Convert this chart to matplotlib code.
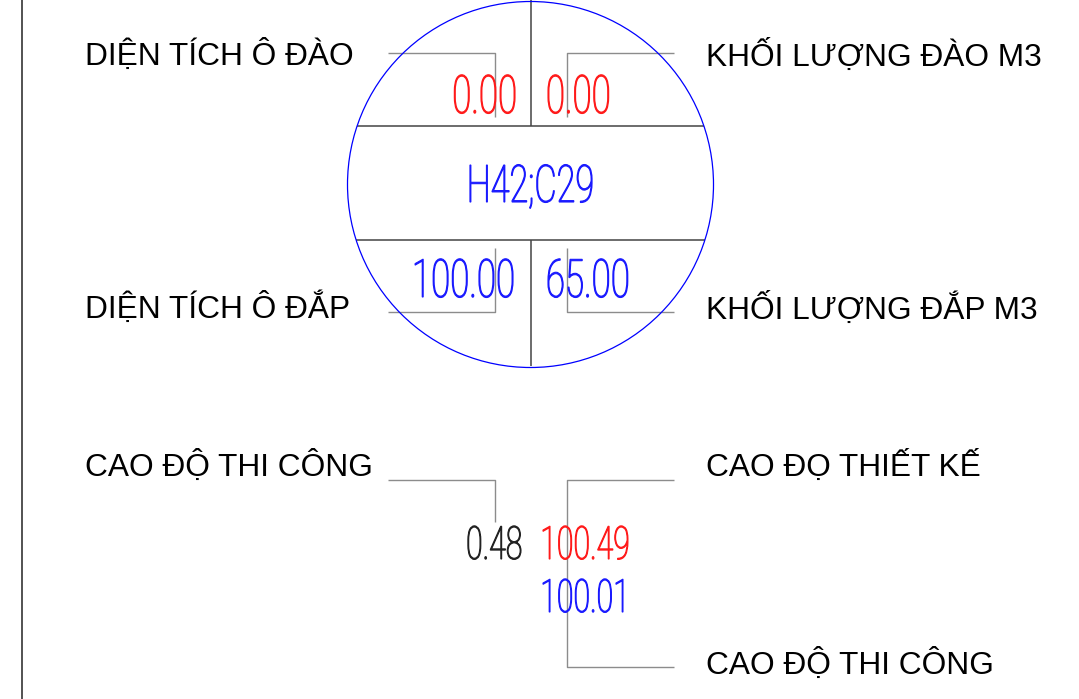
import matplotlib
matplotlib.use('Agg')
import matplotlib.pyplot as plt
from matplotlib.patches import Circle, PathPatch
from matplotlib.textpath import TextPath
from matplotlib.font_manager import FontProperties
from matplotlib.transforms import Affine2D

W, H = 1079, 699

# labels
LEFT_LABELS = ['DIỆN TÍCH Ô ĐÀO', 'DIỆN TÍCH Ô ĐẮP', 'CAO ĐỘ THI CÔNG']
RIGHT_LABELS = ['KHỐI LƯỢNG ĐÀO M3', 'KHỐI LƯỢNG ĐẮP M3',
                'CAO ĐỌ THIẾT KẾ', 'CAO ĐỘ THI CÔNG']

# values
CELL_ID = 'H42;C29'
AREA_CUT = 0.00
VOL_CUT = 0.00
AREA_FILL = 100.00
VOL_FILL = 65.00
WORK_HEIGHT = 0.48
DESIGN_ELEV = 100.49
GROUND_ELEV = 100.01

RED = '#ff1a1a'
BLUE = '#1a1aff'
DARK = '#222222'
GRAY = '#8c8c8c'
LINE = '#444444'

NUM_FONT = FontProperties(family='Roboto', weight='light')
SX = 0.66


def Y(y):
    # top-origin pixel row -> data y
    return H - y


def narrow_text(ax, s, x, y, size, color, ha='left'):
    """Condensed number text; (x, y) is baseline anchor in pixel coords."""
    tp = TextPath((0, 0), s, size=size, prop=NUM_FONT)
    ext = tp.get_extents()
    w = ext.x1 * SX
    x0 = ext.x0 * SX
    if ha == 'left':
        dx = x - x0
    elif ha == 'right':
        dx = x - w
    else:
        dx = x - (x0 + w) / 2
    tr = Affine2D().scale(SX, 1.0).translate(dx, Y(y))
    ax.add_patch(PathPatch(tr.transform_path(tp), facecolor=color,
                           edgecolor=color, lw=0.8, zorder=4))


def seg(ax, xs, ys, color=GRAY, lw=1.0):
    ax.plot(xs, [Y(v) for v in ys], color=color, lw=lw,
            solid_capstyle='butt', zorder=2)


fig = plt.figure(figsize=(W / 100, H / 100), dpi=100)
ax = fig.add_axes([0, 0, 1, 1])
ax.set_xlim(0, W)
ax.set_ylim(0, H)
ax.axis('off')

# frame edge on the left
seg(ax, [22, 22], [0, H], color=LINE, lw=1.3)

# circle
cx, cy, r = 530.5, 184.5, 183
ax.add_patch(Circle((cx, Y(cy)), r, fill=False, edgecolor='#0000ff',
                    lw=0.9, zorder=3))

# dividers
for yy in (126, 240):
    dy = abs(yy - cy)
    half = (r ** 2 - dy ** 2) ** 0.5
    seg(ax, [cx - half, cx + half], [yy, yy], color=LINE, lw=1.1)
seg(ax, [531, 531], [0, 126], color=LINE, lw=1.1)
seg(ax, [531, 531], [240, 366], color=LINE, lw=1.1)

# leaders inside / around circle
seg(ax, [388, 495, 495], [53, 53, 117])
seg(ax, [674, 567, 567], [53, 53, 117])
seg(ax, [388, 495, 495], [312, 312, 248])
seg(ax, [674, 567, 567], [312, 312, 248])

# leaders for elevations
seg(ax, [388, 495, 495], [480, 480, 522])
seg(ax, [674, 567, 567, 674], [480, 480, 667, 667])

# labels
lab_kw = dict(fontsize=22.8, family=['Liberation Sans', 'DejaVu Sans'],
              color='black', va='center', ha='left')
for lab, yy in zip(LEFT_LABELS, [56, 309, 467]):
    ax.text(85, Y(yy), lab, **lab_kw)
for lab, yy in zip(RIGHT_LABELS, [56, 309, 467, 665]):
    ax.text(706, Y(yy), lab, **lab_kw)

# numbers in the circle
narrow_text(ax, f'{AREA_CUT:.2f}', 515, 113, 53, RED, ha='right')
narrow_text(ax, f'{VOL_CUT:.2f}', 548, 113, 53, RED, ha='left')
narrow_text(ax, CELL_ID, 531, 202, 52, BLUE, ha='center')
narrow_text(ax, f'{AREA_FILL:.2f}', 513, 297, 53, BLUE, ha='right')
narrow_text(ax, f'{VOL_FILL:.2f}', 548, 297, 53, BLUE, ha='left')

# elevations
narrow_text(ax, f'{WORK_HEIGHT:.2f}', 521, 559, 46, DARK, ha='right')
narrow_text(ax, f'{DESIGN_ELEV:.2f}', 543, 559, 46, RED, ha='left')
narrow_text(ax, f'{GROUND_ELEV:.2f}', 543, 612, 46, BLUE, ha='left')

fig.savefig('out.png', dpi=100, facecolor='white')
